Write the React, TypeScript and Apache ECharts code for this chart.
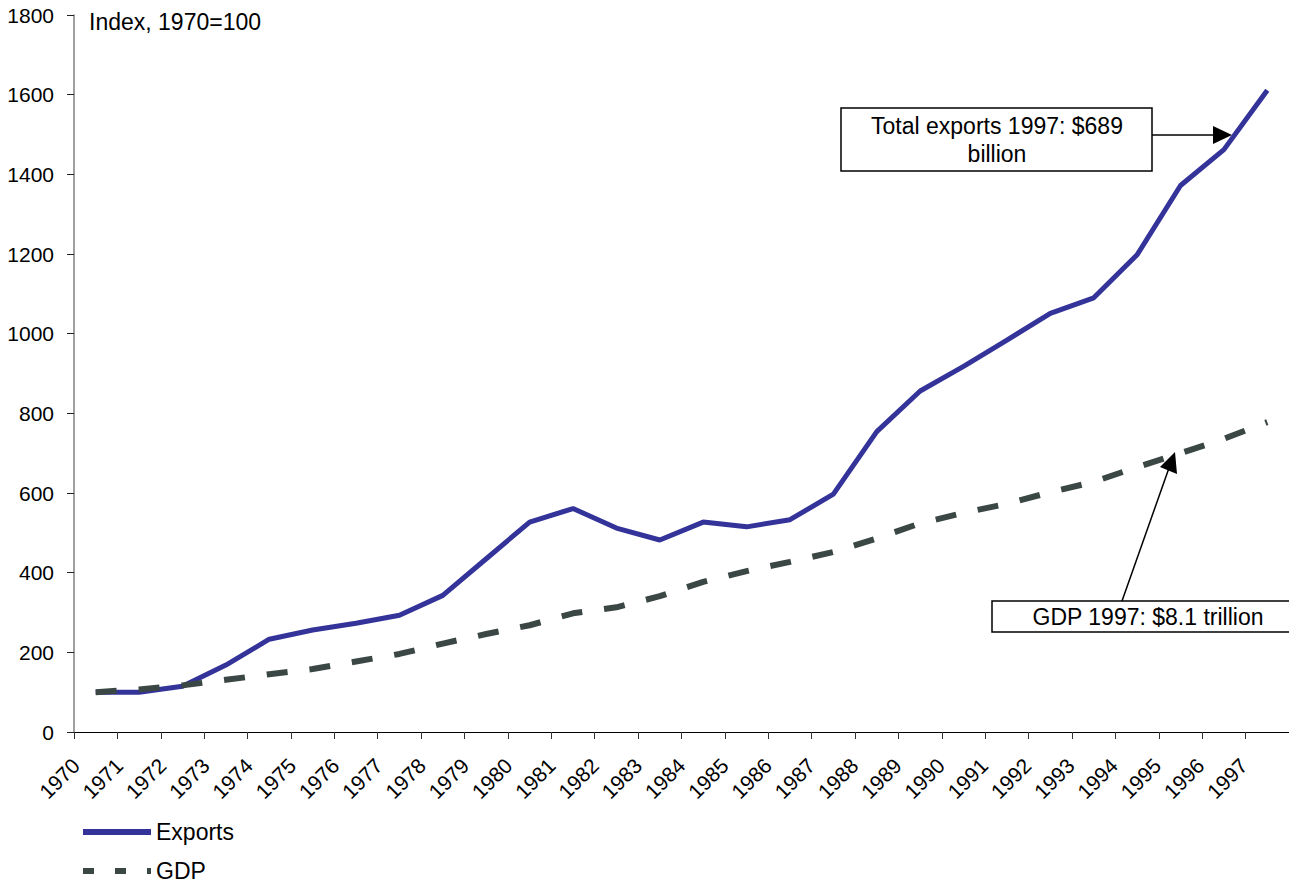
import React, { useEffect, useRef } from "react";
import * as echarts from "echarts";

const years = [
  "1970", "1971", "1972", "1973", "1974", "1975", "1976", "1977", "1978", "1979",
  "1980", "1981", "1982", "1983", "1984", "1985", "1986", "1987", "1988", "1989",
  "1990", "1991", "1992", "1993", "1994", "1995", "1996", "1997",
];
const exportsIdx = [
  100, 100, 115, 168, 233, 256, 273, 293, 343, 435,
  527, 561, 512, 482, 527, 515, 533, 597, 754, 856,
  918, 984, 1051, 1090, 1198, 1372, 1462, 1611,
];
const gdpIdx = [
  100, 107, 117, 131, 145, 158, 177, 196, 222, 246,
  268, 298, 313, 341, 377, 404, 427, 452, 486, 524,
  550, 573, 602, 628, 665, 700, 736, 778,
];
const yTicks = { min: 0, max: 1800, interval: 200 };

const FONT = "'Liberation Sans', Arial, sans-serif";

export default function App() {
  const ref = useRef<HTMLDivElement>(null);
  useEffect(() => {
    if (!ref.current) return;
    const chart = echarts.init(ref.current, undefined, { renderer: "svg" });
    const labelYears = [...years, ""];
    chart.setOption({
      animation: false,
      backgroundColor: "#ffffff",
      textStyle: { fontFamily: FONT },
      grid: [
        { left: 74, right: 0, top: 15, bottom: 152, containLabel: false },
        { left: 76, right: -2, top: 15, bottom: 152, containLabel: false },
      ],
      legend: {
        orient: "vertical",
        left: 80,
        top: 820,
        height: 80,
        itemWidth: 68,
        itemHeight: 18,
        itemGap: 15,
        padding: 0,
        textStyle: { fontSize: 23, lineHeight: 24, color: "#000", fontFamily: FONT },
        data: [
          { name: "Exports", itemStyle: { opacity: 0 }, lineStyle: { width: 6, color: "#333399" } },
          { name: "GDP", itemStyle: { opacity: 0 }, lineStyle: { type: [11, 21], width: 6, color: "#3b4744" } },
        ],
      },
      xAxis: [
        {
          type: "category",
          data: years,
          boundaryGap: true,
          gridIndex: 0,
          axisLine: { show: true, lineStyle: { color: "#000", width: 1.2 } },
          axisTick: { show: true, length: 7, lineStyle: { color: "#333" } },
          axisLabel: { show: false },
          splitLine: { show: false },
        },
        {
          type: "category",
          data: labelYears,
          boundaryGap: false,
          gridIndex: 1,
          position: "bottom",
          axisLine: { show: false },
          axisTick: { show: false },
          axisLabel: {
            show: true,
            interval: 0,
            rotate: 45,
            margin: 30,
            fontSize: 21,
            color: "#000",
            fontFamily: FONT,
          },
          splitLine: { show: false },
        },
      ],
      yAxis: [
        {
          type: "value",
          gridIndex: 0,
          min: yTicks.min,
          max: yTicks.max,
          interval: yTicks.interval,
          axisLine: { show: true, lineStyle: { color: "#808080", width: 1.5 } },
          axisTick: { show: true, length: 7, lineStyle: { color: "#222" } },
          axisLabel: {
            fontSize: 21,
            color: "#000",
            margin: 20,
            fontFamily: FONT,
            formatter: (v: number) => String(v),
          },
          splitLine: { show: false },
        },
        {
          type: "value",
          gridIndex: 1,
          min: yTicks.min,
          max: yTicks.max,
          show: false,
        },
      ],
      series: [
        {
          name: "Exports",
          type: "line",
          xAxisIndex: 0,
          yAxisIndex: 0,
          data: exportsIdx,
          symbol: "none",
          showSymbol: false,
          color: "#333399",
          lineStyle: { color: "#333399", width: 5 },
        },
        {
          name: "GDP",
          type: "line",
          xAxisIndex: 0,
          yAxisIndex: 0,
          data: gdpIdx,
          symbol: "none",
          showSymbol: false,
          color: "#3b4744",
          lineStyle: { color: "#3b4744", width: 6, type: [21, 22] },
        },
      ],
      graphic: [
        {
          type: "text",
          left: 89,
          top: 10,
          style: { text: "Index, 1970=100", fill: "#000", font: `23px ${FONT}` },
        },
        {
          type: "rect",
          shape: { x: 841, y: 108, width: 311, height: 63 },
          style: { fill: "#fff", stroke: "#000", lineWidth: 1.5 },
        },
        {
          type: "text",
          x: 997,
          y: 140,
          style: {
            text: "Total exports 1997: $689\nbillion",
            font: `23px ${FONT}`,
            fill: "#000",
            align: "center",
            verticalAlign: "middle",
            lineHeight: 28,
          },
        },
        {
          type: "line",
          shape: { x1: 1152, y1: 135, x2: 1216, y2: 135 },
          style: { stroke: "#000", lineWidth: 1.5 },
        },
        {
          type: "polygon",
          shape: { points: [[1232, 135], [1213, 126], [1213, 144]] },
          style: { fill: "#000" },
        },
        {
          type: "rect",
          shape: { x: 992, y: 601, width: 310, height: 31 },
          style: { fill: "#fff", stroke: "#000", lineWidth: 1.5 },
        },
        {
          type: "text",
          x: 1148,
          y: 617,
          style: {
            text: "GDP 1997: $8.1 trillion",
            font: `23px ${FONT}`,
            fill: "#000",
            align: "center",
            verticalAlign: "middle",
          },
        },
        {
          type: "line",
          shape: { x1: 1122, y1: 601, x2: 1169, y2: 468 },
          style: { stroke: "#000", lineWidth: 1.5 },
        },
        {
          type: "polygon",
          shape: { points: [[1175, 452], [1160, 467], [1177, 474]] },
          style: { fill: "#000" },
        },
      ],
    });
    return () => chart.dispose();
  }, []);
  return (
    <div
      ref={ref}
      style={{ position: "fixed", left: 0, top: 0, width: 1289, height: 884, background: "#fff" }}
    />
  );
}
